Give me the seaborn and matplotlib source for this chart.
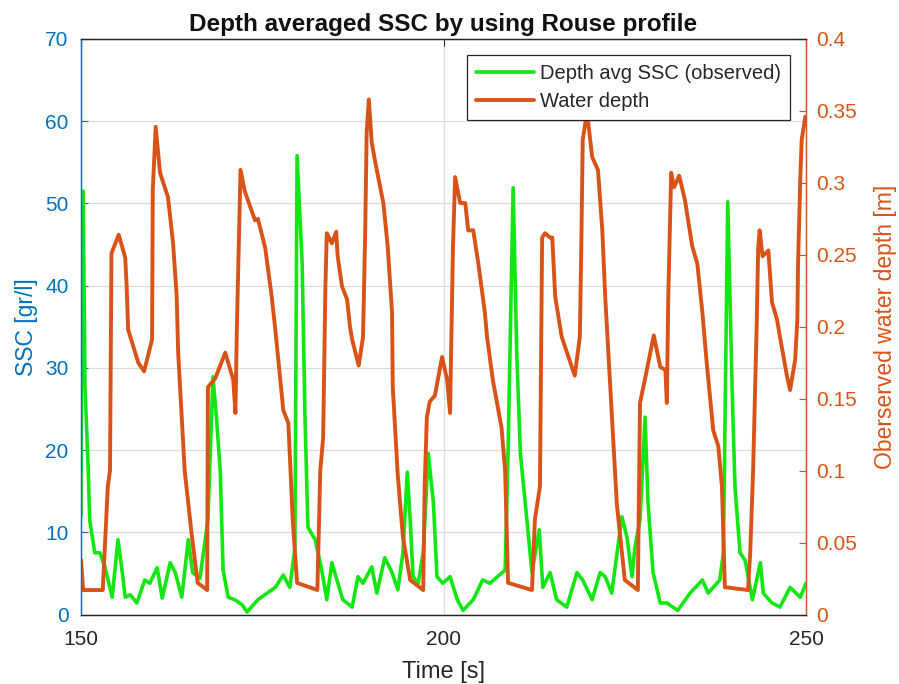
import matplotlib
matplotlib.use("Agg")
import matplotlib.pyplot as plt
import seaborn as sns
import pandas as pd

# Depth-averaged suspended sediment concentration (observed) [gr/l]
ssc_time = [150.0, 150.1, 150.3, 150.55, 151.0, 151.2, 151.9, 152.6, 153.3, 154.3,
            155.1, 155.7, 156.1, 156.8, 157.7, 158.8, 159.5, 160.5, 161.2, 162.3,
            163.0, 163.9, 164.8, 165.4, 166.4, 167.5, 168.2, 168.7, 169.2, 169.6,
            170.3, 171.2, 172.2, 172.9, 174.4, 176.8, 177.9, 178.8, 179.5, 179.8,
            180.5, 180.9, 181.3, 182.3, 183.2, 183.9, 184.6, 185.3, 186.1, 187.4,
            188.2, 188.9, 190.1, 190.8, 191.9, 192.9, 193.7, 194.4, 195.0, 195.4,
            195.8, 196.5, 197.2, 197.9, 198.6, 199.1, 199.9, 200.9, 201.9, 202.7,
            204.1, 205.4, 206.4, 208.5, 208.9, 209.6, 210.1, 210.6, 211.5, 212.2,
            213.2, 213.7, 214.7, 215.6, 217.0, 218.4, 219.2, 220.5, 221.6, 222.3,
            223.2, 224.6, 225.3, 226.0, 226.4, 227.1, 227.8, 228.2, 228.9, 229.9,
            230.8, 232.3, 234.0, 235.7, 236.5, 238.1, 238.6, 239.2, 239.8, 240.2,
            240.9, 241.6, 242.6, 243.7, 244.1, 245.3, 246.4, 247.8, 249.2, 250.0]
ssc_value = [12.0, 46.0, 51.5, 27.7, 17.6, 11.5, 7.5, 7.5, 5.8, 2.1,
             9.1, 5.1, 2.1, 2.4, 1.4, 4.2, 3.8, 5.7, 2.0, 6.3,
             5.1, 2.1, 9.1, 5.1, 4.4, 11.5, 28.9, 23.7, 17.6, 5.4,
             2.1, 1.8, 1.2, 0.3, 1.8, 3.3, 4.8, 3.3, 8.0, 55.8,
             42.8, 23.7, 10.6, 9.1, 5.4, 1.8, 6.3, 4.2, 1.8, 0.9,
             4.6, 3.8, 5.8, 2.6, 6.9, 5.1, 3.0, 7.5, 17.3, 11.5,
             4.6, 3.8, 7.5, 19.6, 13.6, 4.6, 3.8, 4.6, 1.8, 0.5,
             1.8, 4.2, 3.8, 5.4, 19.6, 51.9, 31.8, 19.6, 11.5, 5.1,
             10.3, 3.3, 5.1, 1.8, 0.9, 5.1, 4.2, 1.8, 5.1, 4.6,
             2.6, 11.9, 9.4, 4.6, 8.2, 11.5, 24.0, 13.6, 5.1, 1.4,
             1.4, 0.5, 2.6, 4.2, 2.6, 4.2, 7.5, 50.2, 27.7, 15.5,
             7.5, 6.6, 1.8, 6.3, 2.6, 1.4, 0.9, 3.3, 2.1, 3.8]

# Observed water depth [m]
depth_time = [150.0, 150.3, 153.0, 153.7, 154.0, 154.2, 155.2, 156.1, 156.3, 156.5,
              157.9, 158.7, 159.8, 159.9, 160.3, 160.9, 162.0, 162.7, 163.2, 163.4,
              164.3, 165.3, 166.1, 167.4, 167.5, 168.5, 169.9, 171.0, 171.3, 171.5,
              172.0, 172.6, 174.0, 174.4, 175.4, 176.3, 176.8, 177.9, 178.6, 179.2,
              179.8, 182.6, 183.0, 183.4, 183.7, 183.9, 184.6, 185.2, 185.4, 186.0,
              186.7, 187.1, 187.4, 188.3, 188.9, 189.2, 189.4, 189.7, 190.1, 190.6,
              191.7, 192.3, 192.9, 193.0, 193.7, 194.4, 195.4, 197.2, 197.4, 197.7,
              198.1, 198.8, 199.8, 200.5, 200.9, 201.3, 201.6, 202.3, 203.0, 203.4,
              204.1, 204.8, 205.7, 206.0, 206.8, 208.0, 208.5, 208.9, 212.2, 212.6,
              213.3, 213.6, 214.0, 214.7, 215.0, 215.4, 216.3, 218.1, 218.8, 219.0,
              219.2, 219.8, 220.5, 221.3, 221.9, 222.3, 223.0, 223.9, 225.0, 226.8,
              227.1, 227.8, 229.0, 229.9, 230.6, 230.8, 231.0, 231.4, 231.8, 232.5,
              233.3, 234.3, 235.0, 235.7, 236.3, 237.2, 237.9, 238.4, 238.8, 242.0,
              242.3, 242.7, 243.2, 243.4, 243.6, 244.0, 244.8, 245.3, 246.0, 246.4,
              247.4, 247.8, 248.5, 248.8, 248.9, 249.2, 249.4, 249.9]
depth_value = [0.038, 0.017, 0.017, 0.089, 0.100, 0.251, 0.264, 0.248, 0.228, 0.198,
               0.175, 0.169, 0.191, 0.295, 0.339, 0.307, 0.290, 0.258, 0.221, 0.182,
               0.100, 0.054, 0.022, 0.017, 0.158, 0.164, 0.182, 0.163, 0.140, 0.200,
               0.309, 0.294, 0.274, 0.275, 0.255, 0.221, 0.198, 0.142, 0.133, 0.066,
               0.022, 0.017, 0.100, 0.123, 0.226, 0.265, 0.258, 0.266, 0.249, 0.228,
               0.219, 0.200, 0.191, 0.173, 0.193, 0.267, 0.335, 0.358, 0.328, 0.314,
               0.286, 0.256, 0.210, 0.158, 0.096, 0.054, 0.024, 0.017, 0.089, 0.137,
               0.148, 0.152, 0.179, 0.163, 0.140, 0.255, 0.304, 0.286, 0.286, 0.267,
               0.267, 0.244, 0.210, 0.193, 0.163, 0.130, 0.100, 0.022, 0.017, 0.066,
               0.089, 0.262, 0.265, 0.262, 0.262, 0.221, 0.193, 0.166, 0.193, 0.255,
               0.330, 0.349, 0.318, 0.309, 0.267, 0.221, 0.158, 0.077, 0.024, 0.017,
               0.147, 0.164, 0.194, 0.172, 0.170, 0.147, 0.221, 0.307, 0.297, 0.305,
               0.288, 0.256, 0.244, 0.210, 0.175, 0.128, 0.117, 0.089, 0.019, 0.017,
               0.043, 0.100, 0.203, 0.255, 0.267, 0.249, 0.253, 0.217, 0.205, 0.193,
               0.165, 0.156, 0.177, 0.205, 0.244, 0.302, 0.330, 0.346]

ssc_df = pd.DataFrame({"Time [s]": ssc_time, "SSC": ssc_value})
depth_df = pd.DataFrame({"Time [s]": depth_time, "Depth": depth_value})

BLUE = "#0072BD"
ORANGE = "#D95319"
GREEN = "#14E614"
GRID = "#DCDCDC"
DARK = "#262626"

sns.set_theme(style="white")
plt.rcParams["font.family"] = ["Liberation Sans", "DejaVu Sans"]

fig = plt.figure(figsize=(8.99, 6.84), dpi=100)
ax = fig.add_axes([0.0901, 0.1016, 0.8065, 0.8414])
ax2 = ax.twinx()

sns.lineplot(data=ssc_df, x="Time [s]", y="SSC", ax=ax, color=GREEN,
             linewidth=2.6, estimator=None, sort=False,
             label="Depth avg SSC (observed)", legend=False)
sns.lineplot(data=depth_df, x="Time [s]", y="Depth", ax=ax2, color=ORANGE,
             linewidth=2.8, estimator=None, sort=False,
             label="Water depth", legend=False)

ax.set_xlim(150, 250)
ax.set_ylim(0, 70)
ax2.set_ylim(0, 0.4)
ax.set_xticks([150, 200, 250])
ax.set_yticks(range(0, 71, 10))
ax2.set_yticks([0, 0.05, 0.1, 0.15, 0.2, 0.25, 0.3, 0.35, 0.4])
ax2.set_yticklabels(["0", "0.05", "0.1", "0.15", "0.2", "0.25", "0.3", "0.35", "0.4"])

ax.grid(True, color=GRID, linewidth=0.9)
ax.set_axisbelow(True)

ax.set_xlabel("Time [s]", fontsize=17, color=DARK, labelpad=9)
ax.set_ylabel("SSC [gr/l]", fontsize=16.5, color=BLUE, labelpad=5)
ax2.set_ylabel("Oberserved water depth [m]", fontsize=16.5, color=ORANGE, labelpad=12)
ax.set_title("Depth averaged SSC by using Rouse profile", fontsize=17.5,
             fontweight="bold", color="#111111", pad=6)

ax.tick_params(axis="x", labelsize=15, colors=DARK, direction="in",
               length=5, width=0.8, top=True, pad=11)
ax.tick_params(axis="y", labelsize=15, colors=BLUE, direction="in",
               length=5, width=0.8, pad=9)
ax2.tick_params(axis="y", labelsize=15, colors=ORANGE, direction="in",
                length=5, width=0.8, pad=7.5)

for a in (ax, ax2):
    for side in ("top", "bottom"):
        a.spines[side].set_color(DARK)
        a.spines[side].set_linewidth(0.9)
    a.spines["left"].set_color(BLUE)
    a.spines["right"].set_color(ORANGE)
    a.spines["left"].set_linewidth(0.9)
    a.spines["right"].set_linewidth(0.9)

h1, l1 = ax.get_legend_handles_labels()
h2, l2 = ax2.get_legend_handles_labels()
leg = ax2.legend(h1 + h2, l1 + l2, loc="upper right", fontsize=14.5,
                 frameon=True, fancybox=False, edgecolor=DARK,
                 framealpha=1, handlelength=2.9, borderpad=0.45,
                 labelspacing=0.42, handletextpad=0.3, borderaxespad=0,
                 bbox_to_anchor=(0.978, 0.972))
leg.get_frame().set_linewidth(0.9)

fig.savefig("out.png", dpi=100, facecolor="white")
